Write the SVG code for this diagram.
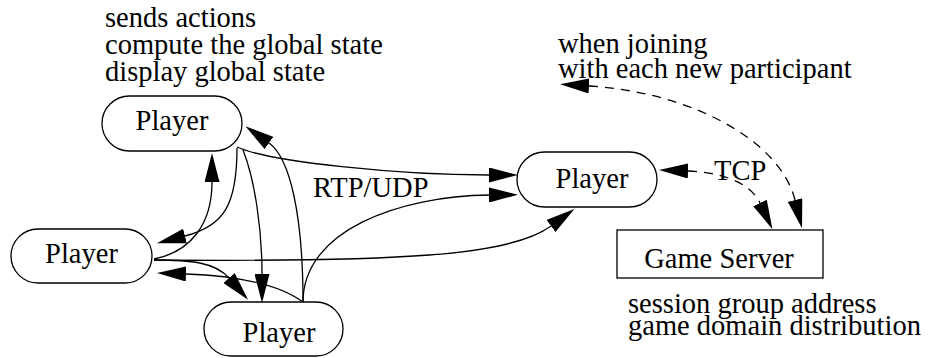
<svg xmlns="http://www.w3.org/2000/svg" width="931" height="358" viewBox="0 0 931 358">
  <style>
    .node { fill: #ffffff; stroke: #000000; stroke-width: 1.3; }
    .label { font-family: "Liberation Serif", "Times New Roman", serif; font-size: 28.5px; fill: #000000; }
    .mid { text-anchor: middle; }
    .edge { fill: none; stroke: #000000; stroke-width: 1.3; marker-end: url(#arrow); }
    .dashed { stroke-dasharray: 9 7; }
    .both { marker-start: url(#arrow); }
  </style>
  <defs>
    <marker id="arrow" markerUnits="userSpaceOnUse" viewBox="0 0 29 15" refX="0" refY="7.5" markerWidth="29" markerHeight="15" orient="auto-start-reverse">
      <path d="M0,0 L29,7.5 L0,15 z" fill="#000000" stroke="none"/>
    </marker>
  </defs>
  <rect width="931" height="358" fill="#ffffff"/>

  <!-- notes, each block set as one text with stacked lines -->
  <g id="notes">
    <text class="label" x="105" y="27">sends actions<tspan x="105" dy="27">compute the global state</tspan><tspan x="105" dy="27">display global state</tspan></text>
    <text class="label" x="558" y="53">when joining<tspan x="558" dy="25">with each new participant</tspan></text>
    <text class="label" x="628" y="313">session group address<tspan x="628" dy="22">game domain distribution</tspan></text>
  </g>

  <!-- connectors -->
  <g id="connectors">
    <!-- top player -> left player -->
    <path class="edge" d="M237,148 C237,205 224,226 185,236"/>
    <!-- left player -> top player -->
    <path class="edge" d="M154,259 C190,252 212,225 212,182"/>
    <!-- top player -> bottom player -->
    <path class="edge" d="M243,150 C255,180 262,230 262,274"/>
    <!-- top player -> right player -->
    <path class="edge" d="M237,147 C270,162 400,175 489,175"/>
    <!-- bottom player -> right player -->
    <path class="edge" d="M303,302 C303,230 400,196 489,195"/>
    <!-- left player -> right player -->
    <path class="edge" d="M154,260 C400,262 510,256 551,226"/>
    <!-- left player -> bottom player -->
    <path class="edge" d="M154,260 C190,260 215,262 229,278"/>
    <!-- bottom player -> left player -->
    <path class="edge" d="M303,302 C280,285 240,276 186,274"/>
    <!-- bottom player -> top player -->
    <path class="edge" d="M303,302 C303,215 290,158 269,143"/>
    <!-- TCP link between right player and game server -->
    <path class="edge dashed both" d="M688,171 C720,172 750,182 760,203"/>
    <!-- join notification link -->
    <path class="edge dashed both" d="M589,86 C690,92 780,140 795,200"/>
    <text class="label" x="313" y="197">RTP/UDP</text>
    <text class="label" x="714" y="180">TCP</text>
  </g>

  <!-- nodes -->
  <g id="player-top">
    <rect class="node" x="102" y="96" width="140" height="55" rx="27.5" ry="27.5"/>
    <text class="label mid" x="172" y="130">Player</text>
  </g>
  <g id="player-left">
    <rect class="node" x="11" y="229" width="141" height="54" rx="27" ry="27"/>
    <text class="label mid" x="81.5" y="263">Player</text>
  </g>
  <g id="player-bottom">
    <rect class="node" x="204" y="302" width="139" height="54" rx="27" ry="27"/>
    <text class="label mid" x="279" y="342">Player</text>
  </g>
  <g id="player-right">
    <rect class="node" x="517" y="152" width="140" height="55" rx="27.5" ry="27.5"/>
    <text class="label mid" x="592" y="188">Player</text>
  </g>
  <g id="game-server">
    <rect class="node" x="617" y="230" width="206" height="48"/>
    <text class="label mid" x="719" y="268">Game Server</text>
  </g>
</svg>
